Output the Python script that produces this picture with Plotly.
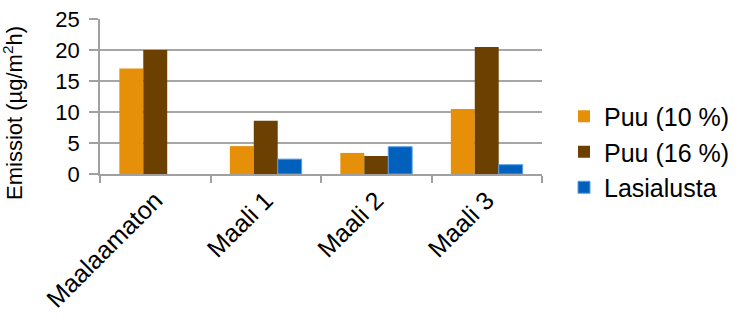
import plotly.graph_objects as go

categories = ["Maalaamaton", "Maali 1", "Maali 2", "Maali 3"]
puu10 = [17.0, 4.5, 3.4, 10.5]
puu16 = [20.0, 8.6, 2.9, 20.5]
lasi = [None, 2.4, 4.4, 1.5]
series_names = ["Puu (10 %)", "Puu (16 %)", "Lasialusta"]
y_ticks = [0, 5, 10, 15, 20, 25]

colors = ["#E6900A", "#6B4000", "#0060BC"]
edge = ["rgba(0,0,0,0)", "rgba(0,0,0,0)", "#5A9FE6"]
edge_w = [0, 0, 1]
FONT = "Liberation Sans, Arial, sans-serif"

fig = go.Figure()
for i, (name, vals) in enumerate(zip(series_names, [puu10, puu16, lasi])):
    fig.add_trace(go.Bar(
        x=categories, y=vals, name=name,
        marker=dict(color=colors[i], line=dict(width=edge_w[i], color=edge[i])),
        legendgroup=f"g{i}",
    ))

fig.update_layout(
    width=745, height=321,
    margin=dict(l=100, r=203, t=19, b=147, autoexpand=False),
    paper_bgcolor="white", plot_bgcolor="white",
    barmode="group", bargap=0.35, bargroupgap=0,
    font=dict(family=FONT, color="black"),
    showlegend=True,
    legend=dict(
        x=1.0 + 22 / 442, xanchor="left", xref="paper",
        y=(174 - 152) / 155, yanchor="middle",
        font=dict(size=25, family=FONT, color="black"),
        traceorder="grouped", tracegroupgap=0,
        itemwidth=30,
        bgcolor="rgba(0,0,0,0)",
    ),
    xaxis=dict(
        automargin=False,
        showline=True, linecolor="#A0A0A0", linewidth=1.5,
        ticks="outside", tickson="boundaries", ticklen=7,
        tickcolor="#A0A0A0", tickwidth=1.5,
        tickangle=-45, tickfont=dict(size=25, family=FONT, color="black"),
        showgrid=False,
    ),
    yaxis=dict(
        automargin=False,
        range=[0, 25], tickvals=y_ticks,
        showline=True, linecolor="#A0A0A0", linewidth=1.5,
        ticks="outside", ticklen=9, tickcolor="#A0A0A0", tickwidth=1.5,
        showgrid=True, gridcolor="#A6A6A6", gridwidth=1.5,
        tickfont=dict(size=22, family=FONT, color="black"),
        ticklabelstandoff=5,
        zeroline=False,
    ),
    annotations=[dict(
        text="Emissiot (µg/m<sup>2</sup>h)", textangle=-90,
        xref="paper", yref="paper",
        x=(13 - 100) / 442, y=(174 - 113) / 155,
        xanchor="center", yanchor="middle", showarrow=False,
        font=dict(size=22, family=FONT, color="black"),
    )],
)

fig.write_html("out.html")
